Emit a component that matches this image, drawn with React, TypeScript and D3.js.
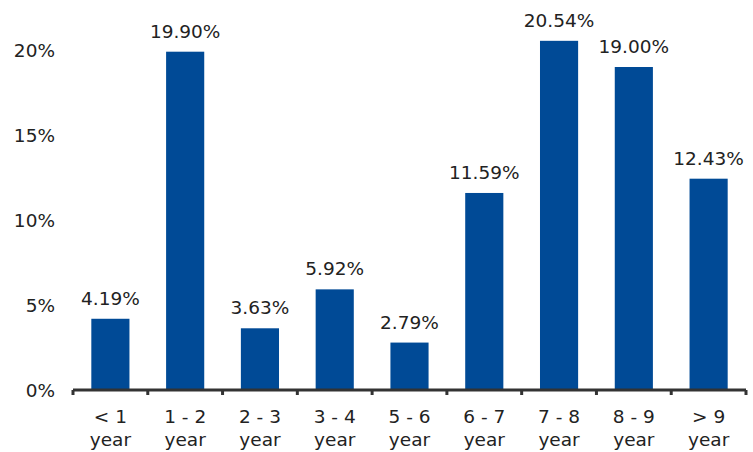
import React from "react";
import * as d3 from "d3";

const categories = ["< 1|year", "1 - 2|year", "2 - 3|year", "3 - 4|year", "5 - 6|year", "6 - 7|year", "7 - 8|year", "8 - 9|year", "> 9|year"];
const values = [4.19, 19.9, 3.63, 5.92, 2.79, 11.59, 20.54, 19.0, 12.43];
const yTicks = [0, 5, 10, 15, 20];

export default function App() {
  const W = 753, H = 452;
  const x0 = 73, x1 = 746, yBase = 390;
  const x = d3.scaleBand<number>().domain(d3.range(categories.length)).range([x0, x1]).paddingInner(0).paddingOuter(0);
  const y = d3.scaleLinear().domain([0, 20]).range([yBase, 50]);
  const bw = x.bandwidth() * 0.51;
  const font = "'DejaVu Sans', Verdana, sans-serif";
  const fs = 18.5;
  const boundaries = d3.range(categories.length + 1).map((i) => x0 + i * x.bandwidth());
  return (
    <svg width={W} height={H} style={{ position: "absolute", left: 0, top: 0 }} fontFamily={font}>
      <rect width={W} height={H} fill="#fff" />
      {yTicks.map((t) => (
        <text key={t} x={55} y={y(t)} dy="0.36em" textAnchor="end" fontSize={fs} fill="#222">
          {t}%
        </text>
      ))}
      {values.map((v, i) => {
        const cx = (x(i) as number) + x.bandwidth() / 2;
        return (
          <g key={i}>
            <rect x={cx - bw / 2} y={y(v)} width={bw} height={yBase - y(v)} fill="#004A96" />
            <text x={cx} y={y(v) - 14} textAnchor="middle" fontSize={fs} fill="#222">
              {v.toFixed(2)}%
            </text>
          </g>
        );
      })}
      <line x1={x0} x2={x1} y1={yBase} y2={yBase} stroke="#333" strokeWidth={3} />
      {boundaries.map((bx, i) => (
        <line key={i} x1={bx} x2={bx} y1={yBase} y2={yBase + 5} stroke="#333" strokeWidth={3} />
      ))}
      {categories.map((c, i) => {
        const cx = (x(i) as number) + x.bandwidth() / 2;
        const [a, b] = c.split("|");
        return (
          <text key={i} textAnchor="middle" fontSize={fs} fill="#222">
            <tspan x={cx} y={423}>{a}</tspan>
            <tspan x={cx} y={446}>{b}</tspan>
          </text>
        );
      })}
    </svg>
  );
}
